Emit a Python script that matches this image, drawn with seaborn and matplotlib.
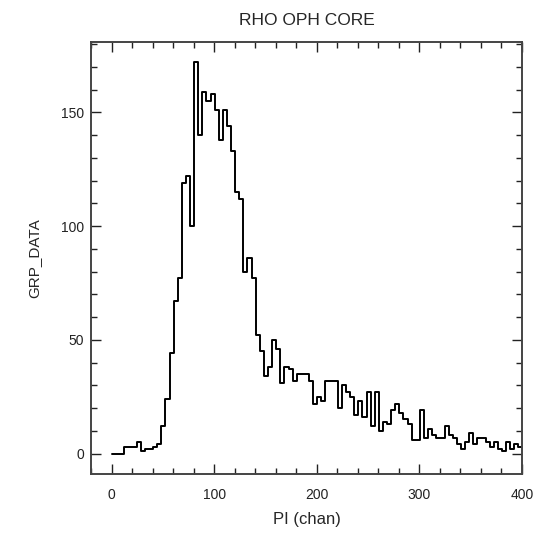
import numpy as np
import pandas as pd
import matplotlib
matplotlib.use("Agg")
import matplotlib.pyplot as plt
import seaborn as sns
from matplotlib.ticker import MultipleLocator

# Data: grouped PI channel histogram (bins of 4 channels starting at 0.5)
bin_width = 4
bin_start = 0.5
counts = [
    0, 0, 0, 3, 3, 3, 5, 1, 2, 2,
    3, 4, 12, 24, 44, 67, 77, 119, 122, 100,
    172, 140, 159, 155, 158, 151, 138, 151, 144, 133,
    115, 112, 80, 86, 77, 52, 45, 34, 38, 50,
    46, 31, 38, 37, 32, 35, 35, 35, 32, 22,
    25, 23, 32, 32, 32, 20, 30, 27, 25, 17,
    23, 16, 27, 12, 27, 10, 14, 13, 19, 22,
    18, 15, 13, 6, 6, 19, 7, 11, 8, 7,
    7, 12, 8, 7, 4, 2, 5, 9, 4, 7,
    7, 5, 3, 5, 2, 1, 5, 2, 4, 3,
]
title = "RHO OPH CORE"
xlabel = "PI (chan)"
ylabel = "GRP_DATA"
xticks = [0, 100, 200, 300, 400]
yticks = [0, 50, 100, 150]

n = len(counts)
centers = bin_start + bin_width * (np.arange(n) + 0.5)
df = pd.DataFrame({"chan": centers, "counts": np.asarray(counts, dtype=float)})

sns.set_style("ticks")
plt.rcParams["font.family"] = ["Liberation Sans", "DejaVu Sans"]

fig = plt.figure(figsize=(5.53, 5.33), dpi=100)
ax = fig.add_axes([91 / 553, 1 - 474 / 533, (522 - 91) / 553, (474 - 42) / 533])

sns.histplot(data=df, x="chan", weights="counts", binwidth=bin_width,
             binrange=(bin_start, bin_start + bin_width * n), element="step",
             fill=False, color="black", linewidth=1.4, ax=ax)

ax.set_xlim(-20, 400)
ax.set_ylim(-9, 181)
ax.set_xticks(xticks)
ax.set_yticks(yticks)
ax.xaxis.set_minor_locator(MultipleLocator(20))
ax.yaxis.set_minor_locator(MultipleLocator(10))
ax.tick_params(which="both", direction="in", top=True, right=True,
               color="#222222", width=1.0)
ax.tick_params(which="major", length=7, labelsize=10, colors="#222222")
ax.tick_params(which="minor", length=4.5)
ax.tick_params(axis="y", which="major", pad=5)
ax.tick_params(axis="x", which="major", pad=10)
for s in ax.spines.values():
    s.set_visible(True)
    s.set_color("#444444")
    s.set_linewidth(1.4)

ax.set_title(title, fontsize=12.5, pad=12)
ax.set_xlabel(xlabel, fontsize=12, labelpad=7)
ax.set_ylabel(ylabel, fontsize=11, labelpad=14)

fig.savefig("out.png", dpi=100)
